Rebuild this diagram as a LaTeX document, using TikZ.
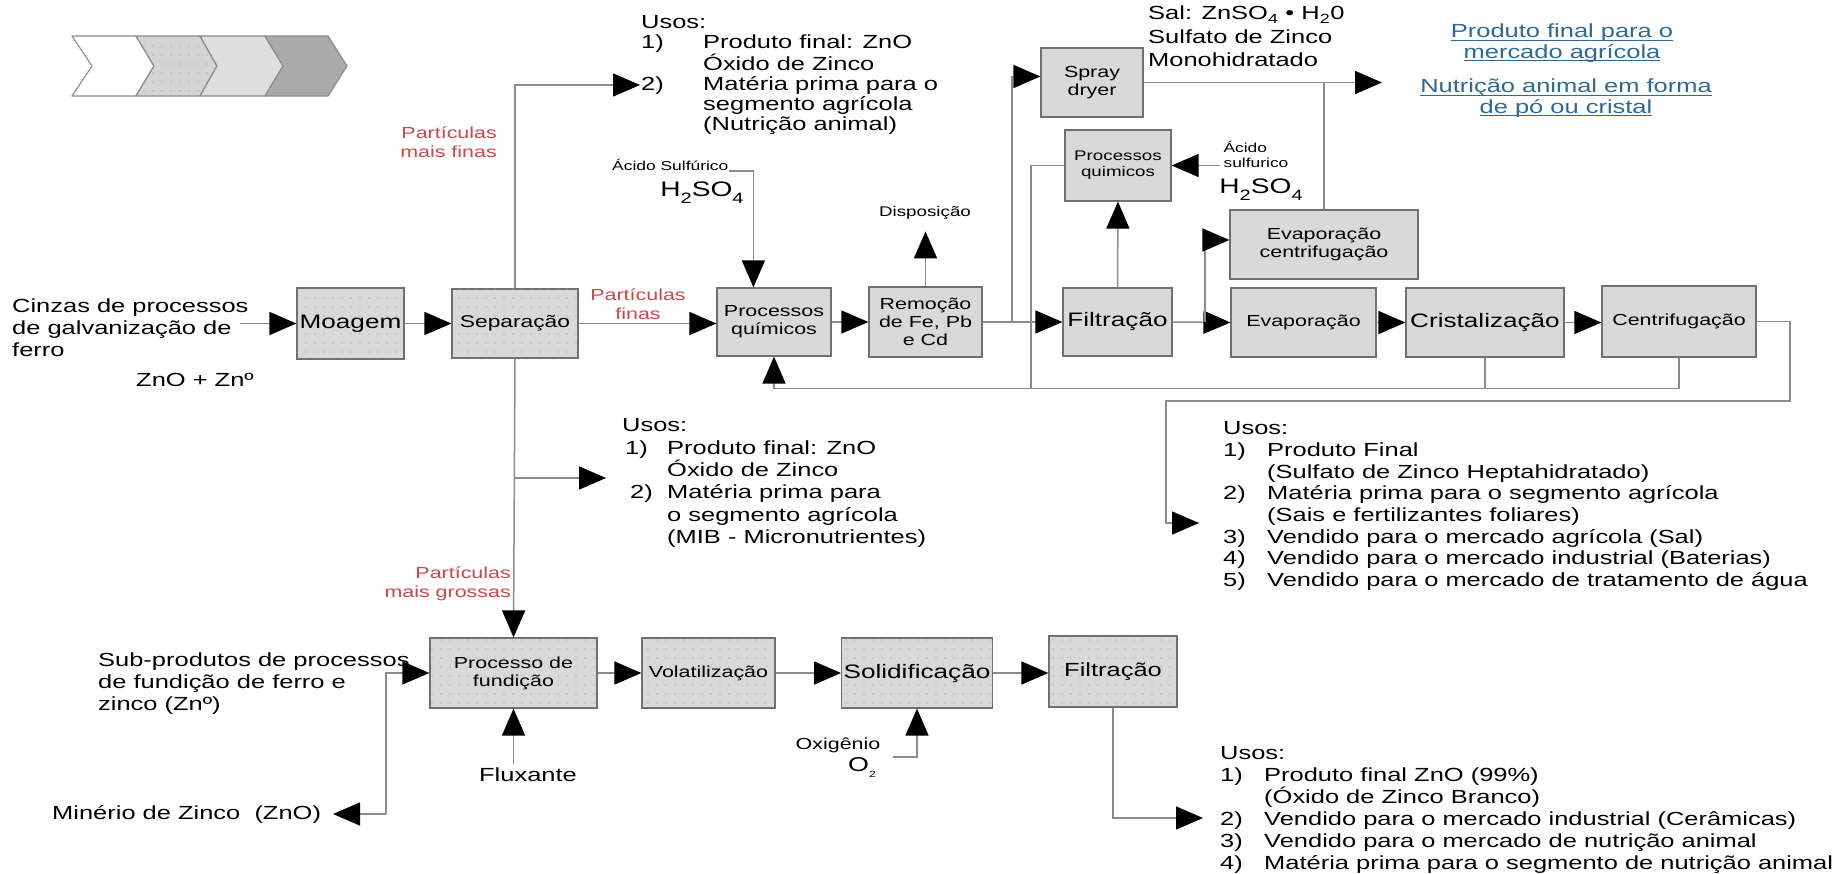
\documentclass[tikz,border=0pt]{standalone}
\usepackage{fontspec}
\setmainfont[FakeStretch=1.34]{Liberation Sans}
\usetikzlibrary{arrows.meta,patterns.meta}
\definecolor{boxgray}{RGB}{217,217,217}
\definecolor{bordergray}{RGB}{112,112,112}
\definecolor{linegray}{RGB}{140,140,140}
\definecolor{redlbl}{RGB}{205,72,75}
\definecolor{bluelbl}{RGB}{45,105,150}
\definecolor{chevA}{RGB}{212,212,212}
\definecolor{chevB}{RGB}{222,222,222}
\definecolor{chevC}{RGB}{170,170,170}
\newcommand{\uln}[1]{\setbox0\hbox{#1}\rlap{\rule[-3.2pt]{\wd0}{1.2pt}}\box0}
\newcommand{\sbs}[1]{\raisebox{-0.32em}{\fontsize{15}{15}\selectfont #1}}
\newcommand{\nb}[2][44pt]{\makebox[#1][l]{#2}}
\tikzset{
  bx/.style={draw=bordergray, fill=boxgray, line width=1.2pt, inner sep=2pt, align=center},
  tex/.style={postaction={pattern={Dots[distance=9pt,radius=0.6pt]}, pattern color=gray!75}},
  dbx/.style={bx, tex},
  ln/.style={draw=linegray, line width=1.5pt},
  arr/.style={ln, -{Triangle[length=27pt,width=23pt,color=black]}},
  chev/.style={draw=linegray, line width=1.2pt, line join=round},
  big/.style={font=\fontsize{19}{22}\selectfont},
  bigr/.style={font=\fontsize{19.5}{22}\selectfont},
  med/.style={font=\fontsize{16}{18}\selectfont},
  sml/.style={font=\fontsize{14}{16}\selectfont},
  tny/.style={font=\fontsize{13}{15}\selectfont},
  red/.style={text=redlbl, font=\fontsize{16}{19}\selectfont},
}
\begin{document}
\begin{tikzpicture}[x=1pt,y=-1pt]
\useasboundingbox[fill=white] (0,0) rectangle (1839,874);

% chevrons
\draw[chev, fill=white] (72,36) -- (136,36) -- (154,66) -- (136,96) -- (72,96) -- (92,66) -- cycle;
\draw[chev, fill=chevA, tex] (136,36) -- (200,36) -- (217,66) -- (200,96) -- (136,96) -- (154,66) -- cycle;
\draw[chev, fill=chevB] (200,36) -- (265,36) -- (283,66) -- (265,96) -- (200,96) -- (217,66) -- cycle;
\draw[chev, fill=chevC] (265,36) -- (328,36) -- (347,66) -- (328,96) -- (265,96) -- (283,66) -- cycle;

% boxes
\node[dbx, bigr, minimum width=107pt, minimum height=71pt] (moag) at (350.5,323.5) {Moagem};
\node[dbx, font=\fontsize{17}{20}\selectfont, minimum width=126pt, minimum height=69pt] (sep) at (515,323.5) {Separação};
\node[bx, med, minimum width=114pt, minimum height=68pt] (pq) at (774,322) {Processos\\químicos};
\node[bx, med, minimum width=113pt, minimum height=70pt] (rem) at (925.5,322) {Remoção\\de Fe, Pb\\e Cd};
\node[bx, bigr, minimum width=109pt, minimum height=68pt] (filt) at (1117.5,322) {Filtração};
\node[bx, med, minimum width=102pt, minimum height=69pt] (spray) at (1092,82.5) {Spray\\dryer};
\node[bx, sml, minimum width=106pt, minimum height=71pt] (pqs) at (1118,165.5) {Processos\\quimicos};
\node[bx, med, minimum width=188pt, minimum height=69pt] (evc) at (1324,244.5) {Evaporação\\centrifugação};
\node[bx, med, minimum width=145pt, minimum height=69pt] (evap) at (1303.5,322.5) {Evaporação};
\node[bx, bigr, minimum width=158pt, minimum height=69pt] (crist) at (1485,322.5) {Cristalização};
\node[bx, med, minimum width=154pt, minimum height=71pt] (centr) at (1679,321.5) {Centrifugação};
\node[dbx, med, minimum width=167pt, minimum height=70pt] (pf) at (513.5,673) {Processo de\\fundição};
\node[dbx, med, minimum width=133pt, minimum height=70pt] (vol) at (708.5,673) {Volatilização};
\node[dbx, bigr, minimum width=146pt, minimum height=70pt] (sol) at (917,673) {Solidificação};
\node[dbx, big, minimum width=128pt, minimum height=71pt] (filt2) at (1113,671.5) {Filtração};

% free texts
\node[big, align=left, anchor=west, inner sep=0] (cinzas) at (12,328) {Cinzas de processos\\de galvanização de\\ferro};
\node[big, anchor=west, inner sep=0] (zno) at (136,380) {ZnO + Znº};
\node[red, align=right, anchor=east, inner sep=0] (pmf) at (497,142.5) {Partículas\\mais finas};
\node[red, align=center, inner sep=0] (pfin) at (638,304) {Partículas\\finas};
\node[red, align=right, anchor=east, inner sep=0] (pmg) at (511,584) {Partículas\\mais grossas};

\node[tny, anchor=base west, inner sep=0] (acs) at (612,171) {Ácido Sulfúrico};
\node[font=\fontsize{21}{24}\selectfont, inner sep=0] (h2a) at (702,193) {H\sbs{2}SO\sbs{4}};
\node[sml, inner sep=0] (disp) at (925,213) {Disposição};
\node[tny, align=left, anchor=west] (acs2) at (1220,154) {Ácido\\sulfurico};
\node[font=\fontsize{21}{24}\selectfont, inner sep=0] (h2b) at (1261,190) {H\sbs{2}SO\sbs{4}};

\node[font=\fontsize{19}{23.5}\selectfont, align=left, anchor=north west, inner sep=0] (sal) at (1148,6) {Sal: ZnSO\textsubscript{4} • H\textsubscript{2}0\\Sulfato de Zinco\\Monohidratado};

\node[font=\fontsize{19}{20.5}\selectfont, text=bluelbl, align=center, inner sep=0] (blue1) at (1562,43) {\uln{Produto final para o}\\\uln{mercado agrícola}};
\node[font=\fontsize{19}{20.5}\selectfont, text=bluelbl, align=center, inner sep=0] (blue2) at (1566,98) {\uln{Nutrição animal em forma}\\\uln{de pó ou cristal}};

\node[font=\fontsize{19}{20.2}\selectfont, align=left, anchor=north west, inner sep=0] (usosA) at (641,15.5) {Usos:\\
\nb[62pt]{1)}Produto final: ZnO\\
\hspace*{62pt}Óxido de Zinco\\
\nb[62pt]{2)}Matéria prima para o\\
\hspace*{62pt}segmento agrícola\\
\hspace*{62pt}(Nutrição animal)};

\node[font=\fontsize{19}{22.4}\selectfont, align=left, anchor=north west, inner sep=0] (usosB) at (622,418.5) {Usos:\\
\hspace*{3pt}\nb[42pt]{1)}Produto final: ZnO\\
\hspace*{45pt}Óxido de Zinco\\
\hspace*{8pt}\nb[37pt]{2)}Matéria prima para\\
\hspace*{45pt}o segmento agrícola\\
\hspace*{45pt}(MIB - Micronutrientes)};

\node[font=\fontsize{19}{21.7}\selectfont, align=left, anchor=north west, inner sep=0] (usosC) at (1223,421.5) {Usos:\\
\nb{1)}Produto Final\\
\hspace*{44pt}(Sulfato de Zinco Heptahidratado)\\
\nb{2)}Matéria prima para o segmento agrícola\\
\hspace*{44pt}(Sais e fertilizantes foliares)\\
\nb{3)}Vendido para o mercado agrícola (Sal)\\
\nb{4)}Vendido para o mercado industrial (Baterias)\\
\nb{5)}Vendido para o mercado de tratamento de água};

\node[font=\fontsize{19}{22}\selectfont, align=left, anchor=north west, inner sep=0] (usosD) at (1220,746.5) {Usos:\\
\nb{1)}Produto final ZnO (99\%)\\
\hspace*{44pt}(Óxido de Zinco Branco)\\
\nb{2)}Vendido para o mercado industrial (Cerâmicas)\\
\nb{3)}Vendido para o mercado de nutrição animal\\
\nb{4)}Matéria prima para o segmento de nutrição animal};

\node[big, align=left, anchor=west, inner sep=0] (subp) at (98,684) {Sub-produtos de processos\\de fundição de ferro e\\zinco (Znº)};
\node[big, anchor=west, inner sep=0] (min) at (52,814) {Minério de Zinco\ \ (ZnO)};
\node[big] (flux) at (528,775) {Fluxante};
\node[med, inner sep=0] (oxy) at (838,745) {Oxigênio};
\node[font=\fontsize{20}{22}\selectfont, inner sep=0] (o2) at (862,768) {O\raisebox{-0.3em}{\fontsize{9}{9}\selectfont 2}};

% coordinates
\coordinate (cz) at (240,323.5);
\coordinate (a2) at (640,85);
\coordinate (b1) at (515,478);
\coordinate (b2) at (606,478);
\coordinate (j1) at (1012,322);
\coordinate (j2) at (1031,388);
\coordinate (j3) at (1205,322);
\coordinate (sprayout) at (1382,82.5);
\coordinate (c1) at (1790,401);
\coordinate (c2) at (1166,523);
\coordinate (c3) at (1199,523);
\coordinate (m1) at (386,814);
\coordinate (m2) at (333,814);
\coordinate (ox1) at (893,757);
\coordinate (f2) at (1203,818);

% connectors main row
\draw[arr] (cz) -- (moag.west);
\draw[arr] (moag.east) -- (sep.west);
\draw[arr] (sep.east) -- (sep.east -| pq.west);
\draw[arr] (pq.east) -- (rem.west);
\draw[arr] (rem.east) -- (filt.west);
\draw[arr] (filt.east) -- (evap.west);
\draw[arr] (evap.east) -- (crist.west);
\draw[arr] (crist.east) -- (crist.east -| centr.west);

\draw[arr] (sep.north) |- (a2);
\draw[arr] (sep.south) -- (pf.north);
\draw[arr] (b1) -- (b2);

\draw[arr] (acs.base east) -| ([xshift=37pt]pq.north west);
\draw[arr] (rem.north) -- ++(0,-55);
\draw[arr] (j1) |- ([yshift=6pt]spray.west);
\draw[ln] (j2) |- (pqs.west);
\draw[arr] (filt.north) -- (pqs.south);
\draw[arr] (acs2.west |- pqs.east) -- (pqs.east);
\draw[arr] (spray.east) -- (sprayout);
\draw[ln] (evc.north) -- (evc.north |- spray.east);
\draw[arr] (j3) |- ([yshift=4.5pt]evc.west);

\draw[arr] (centr.south) -- ++(0,31) -| (pq.south);
\draw[ln] (crist.south) -- ++(0,31);
\draw[arr] (centr.east) -| (c1) -| (c2) -- (c3);

% bottom row
\draw[arr] (pf.east) -- (pf.east -| vol.west);
\draw[arr] (vol.east) -- (vol.east -| sol.west);
\draw[arr] (sol.east) -- (sol.east -| filt2.west);
\draw[arr] (m1) |- (pf.west);
\draw[arr] (m1) -- (m2);
\draw[arr] (flux.north -| pf.south) -- (pf.south);
\draw[arr] (ox1) -| (sol.south);
\draw[arr] (filt2.south) |- (f2);
\end{tikzpicture}
\end{document}
